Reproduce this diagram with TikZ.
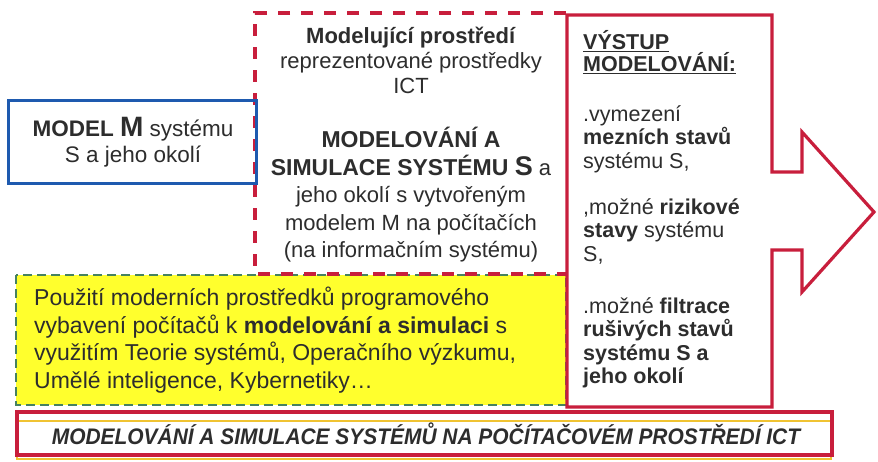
\documentclass[tikz,border=0pt]{standalone}
\usepackage{fontspec}
\setmainfont{Liberation Sans}
\usepackage{xcolor}
\definecolor{redc}{RGB}{200,30,60}
\definecolor{bluec}{RGB}{30,90,175}
\definecolor{greenc}{RGB}{70,130,95}
\definecolor{yellowc}{RGB}{255,255,45}
\definecolor{orangec}{RGB}{240,195,50}
\definecolor{textc}{RGB}{45,45,45}
\begin{document}
\begin{tikzpicture}[x=1pt,y=-1pt,
  txt/.style={text=textc, inner sep=0pt},
]
\useasboundingbox[fill=white] (0,0) rectangle (878,461);
% yellow box
\path[fill=yellowc] (16,275) rectangle (566,405);
\draw[greenc, line width=2.6pt, dash pattern=on 9pt off 5pt] (16,275) rectangle (566,405);
% red dashed modelling box
\draw[redc, line width=3.2pt, dash pattern=on 12pt off 11pt] (566,13) -- (255,13) -- (255,274) -- (566,274);
% blue box
\draw[bluec, line width=3pt] (8,100) rectangle (256,183);
% output box with arrow
\draw[redc, line width=3.2pt, line join=miter] (567,15) -- (772,15) -- (772,172) -- (802,172) -- (802,132) -- (874,212) -- (802,292) -- (802,250) -- (772,250) -- (772,407) -- (567,407) -- cycle;
% bottom banner
\draw[orangec, line width=2.4pt] (17,421) rectangle (831,459);
\draw[redc, line width=3.2pt] (17,412) rectangle (832,455);

\node[txt, align=center, font=\fontsize{22.5}{26}\selectfont] (model) at (133,142)
  {\textbf{MODEL {\fontsize{28}{26}\selectfont M}} systému\\S a jeho okolí};

\node[txt, align=center, anchor=north, font=\fontsize{22}{25}\selectfont] (env) at (411,27)
  {\textbf{Modelující prostředí}\\reprezentované prostředky\\ICT};

\node[txt, align=center, anchor=north, font=\fontsize{22}{27.5}\selectfont] (sim) at (411,127)
  {{\fontsize{23}{27.5}\selectfont\textbf{MODELOVÁNÍ A}}\\
   {\fontsize{23}{27.5}\selectfont\textbf{SIMULACE SYSTÉMU {\fontsize{27}{27.5}\selectfont S}}} a\\
   jeho okolí s vytvořeným\\modelem M na počítačích\\(na informačním systému)};

\node[txt, align=left, anchor=north west, font=\fontsize{21.5}{23.5}\selectfont] (out) at (583,30)
  {\textbf{\underline{VÝSTUP}}\\[-1.5pt]\textbf{\underline{MODELOVÁNÍ:}}\\[26.5pt]
   .vymezení\\\textbf{mezních stavů}\\systému S,\\[22.5pt]
   ,možné \textbf{rizikové}\\\textbf{stavy} systému\\S,\\[28.5pt]
   .možné \textbf{filtrace}\\\textbf{rušivých stavů}\\\textbf{systému S a}\\\textbf{jeho okolí}};

\node[txt, align=left, anchor=north west, font=\fontsize{23}{27.5}\selectfont] (tools) at (34,287)
  {Použití moderních prostředků programového\\
   vybavení počítačů k \textbf{modelování a simulaci} s\\
   využitím Teorie systémů, Operačního výzkumu,\\
   Umělé inteligence, Kybernetiky\dots};

\node[txt, font=\fontsize{22.5}{24}\selectfont\bfseries\itshape] (banner) at (426,434)
  {\scalebox{0.93}[1]{MODELOVÁNÍ A SIMULACE SYSTÉMŮ NA POČÍTAČOVÉM PROSTŘEDÍ ICT}};
\end{tikzpicture}
\end{document}
